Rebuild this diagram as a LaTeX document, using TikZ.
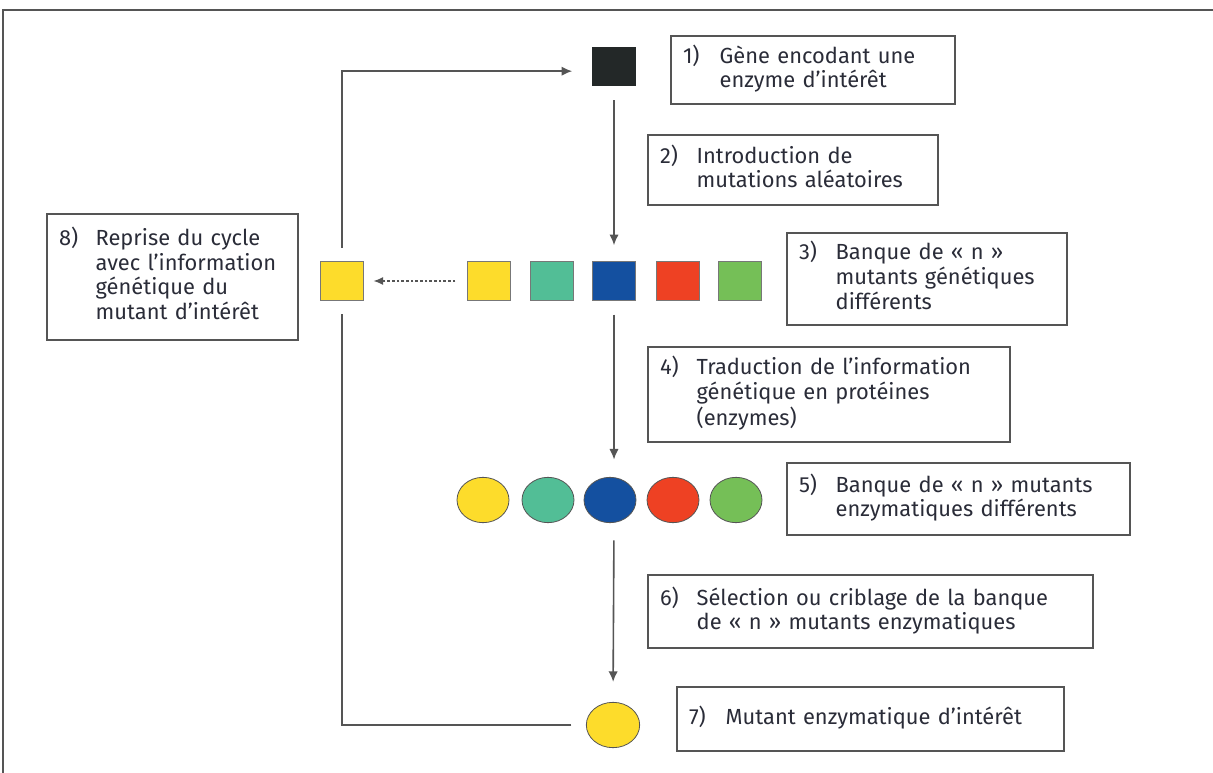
\documentclass[tikz,border=0pt]{standalone}
\usepackage{fontspec}
\setmainfont{Fira Sans}
\usetikzlibrary{arrows.meta,shapes.geometric}
\definecolor{txt}{HTML}{2A2C38}
\definecolor{ln}{HTML}{555555}
\definecolor{cY}{HTML}{FDDC2B}
\definecolor{cT}{HTML}{52BE96}
\definecolor{cB}{HTML}{1450A0}
\definecolor{cR}{HTML}{EE4123}
\definecolor{cG}{HTML}{75BF57}
\definecolor{cK}{HTML}{232828}
\newcommand{\stp}[2]{\makebox[27.5pt][l]{#1}\begin{tabular}[t]{@{}l@{}}#2\end{tabular}}
\begin{document}
\begin{tikzpicture}[x=0.75pt,y=-0.75pt,
  font=\fontsize{16.4pt}{18pt}\selectfont,
  box/.style n args={2}{draw=ln, line width=1pt, text=txt, minimum width=#1*0.75pt, minimum height=#2*0.75pt, text width=#1*0.75pt-18pt, inner xsep=9pt, inner ysep=0pt, align=left},
  sqr/.style={draw=ln!80, line width=0.6pt, minimum width=32pt, minimum height=29pt, inner sep=0pt},
  ell/.style={ellipse, draw=ln, line width=0.6pt, minimum width=39pt, minimum height=34pt, inner sep=0pt},
  conn/.style={draw=ln, line width=1.2pt, -{Latex[length=8pt,width=7pt]}},
]
\useasboundingbox (0,0) rectangle (1213,773);
\fill[white] (0,0) rectangle (1213,773);
% frame
\draw[ln, line width=1pt] (3,773) -- (3,10) -- (1213,10);
% step 1
\node[sqr, fill=cK, draw=cK] (s0) at (614,66.5) {};
\node[box={284}{68}] (b1) at (813,70) {\stp{1)}{Gène encodant une\\enzyme d’intérêt}};
% step 2
\node[box={290}{70}] (b2) at (793,170) {\stp{2)}{Introduction de\\mutations aléatoires}};
% step 3 squares
\node[sqr, fill=cY] (q1) at (489,281) {};
\node[sqr, fill=cT] (q2) at (552,281) {};
\node[sqr, fill=cB] (q3) at (614,281) {};
\node[sqr, fill=cR] (q4) at (678,281) {};
\node[sqr, fill=cG] (q5) at (740,281) {};
\node[sqr, fill=cY] (qL) at (342,281) {};
\node[box={280}{92}] (b3) at (927,279) {\stp{3)}{Banque de « n »\\mutants génétiques\\différents}};
% step 4
\node[box={362}{95}] (b4) at (829,394.5) {\stp{4)}{Traduction de l’information\\génétique en protéines\\(enzymes)}};
% step 5 ellipses
\node[ell, fill=cY] (e1) at (483,500) {};
\node[ell, fill=cT] (e2) at (548,500) {};
\node[ell, fill=cB] (e3) at (610,500) {};
\node[ell, fill=cR] (e4) at (673,500) {};
\node[ell, fill=cG] (e5) at (736,500) {};
\node[box={343}{72}] (b5) at (958.5,499) {\stp{5)}{Banque de « n » mutants\\enzymatiques différents}};
% step 6
\node[box={445}{73}] (b6) at (870.5,611.5) {\stp{6)}{Sélection ou criblage de la banque\\de « n » mutants enzymatiques}};
% step 7
\node[ell, fill=cY, minimum width=40pt] (e7) at (613,725) {};
\node[box={387}{64}] (b7) at (870.5,719) {\stp{7)}{Mutant enzymatique d’intérêt}};
% step 8
\node[box={251}{126}] (b8) at (172.5,277) {\stp{8)}{Reprise du cycle\\avec l’information\\génétique du\\mutant d’intérêt}};
% connectors
\draw[conn, shorten <=10.5pt, shorten >=12pt] (s0.south) -- (s0.south |- q3.north);
\draw[conn, shorten <=10.5pt, shorten >=13pt] (q3.south) -- (q3.south |- e3.north);
\draw[conn, shorten <=13pt, shorten >=15pt] (e3.south -| s0.south) -- (e7.north);
\draw[ln, line width=0.8pt, dash pattern=on 2pt off 1.5pt, -{Latex[length=7pt,width=6pt]}, shorten <=9pt, shorten >=7.5pt] (q1.west) -- (qL.east);
\draw[ln, line width=1.2pt, shorten <=11pt, shorten >=10pt] (e7.west) -| (qL.south);
\draw[conn, shorten <=10pt, shorten >=15pt] (qL.north) |- ([yshift=-3.5pt]s0.west);
\end{tikzpicture}
\end{document}
